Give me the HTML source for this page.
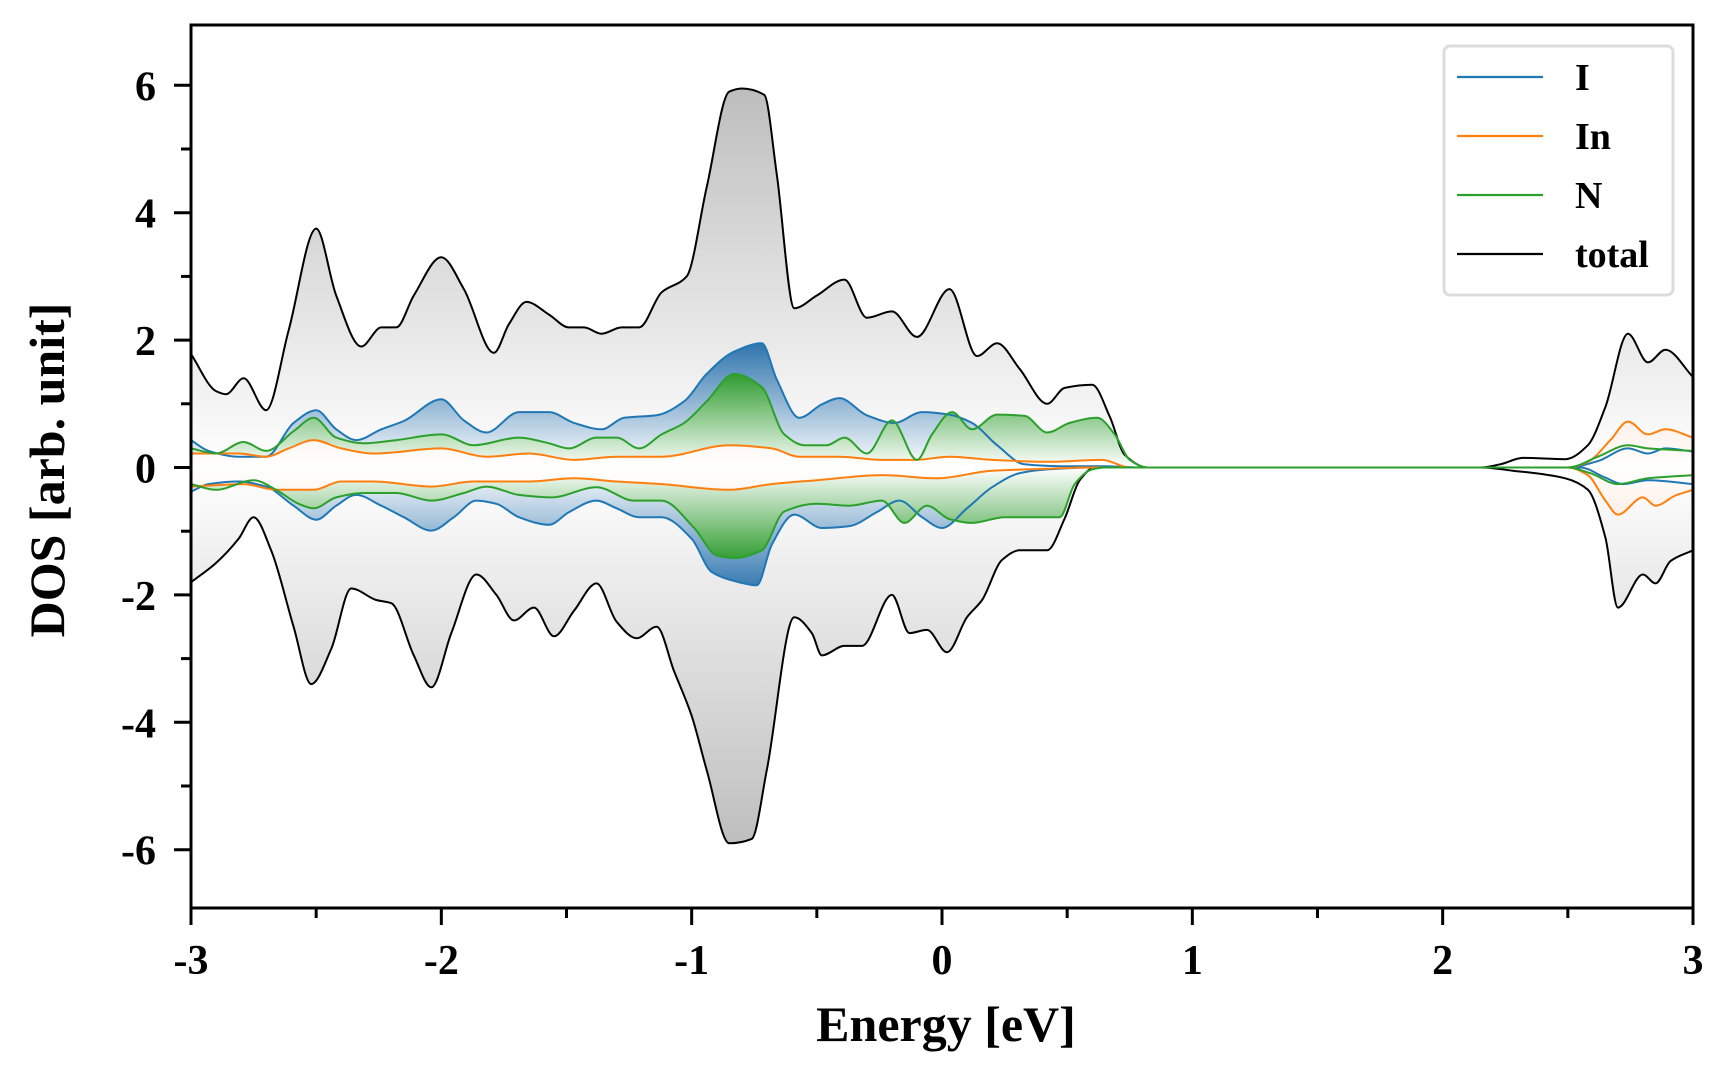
<!DOCTYPE html>
<html><head><meta charset="utf-8">
<style>
html,body{margin:0;padding:0;background:#fff;}
svg{display:block;}
text{font-family:"Liberation Serif",serif;font-weight:bold;fill:#000;}
</style></head>
<body>
<svg id="chart" width="1728" height="1080" viewBox="0 0 1728 1080" xmlns="http://www.w3.org/2000/svg">
<defs>
<linearGradient id="gTot" gradientUnits="userSpaceOnUse" x1="0" y1="85" x2="0" y2="850">
<stop offset="0" stop-color="#bdbdbd"/><stop offset="0.5" stop-color="#ffffff"/><stop offset="1" stop-color="#bdbdbd"/></linearGradient>
<linearGradient id="gI" gradientUnits="userSpaceOnUse" x1="0" y1="343" x2="0" y2="592">
<stop offset="0" stop-color="#2f74ad"/><stop offset="0.5" stop-color="#ffffff"/><stop offset="1" stop-color="#2f74ad"/></linearGradient>
<linearGradient id="gN" gradientUnits="userSpaceOnUse" x1="0" y1="372" x2="0" y2="563">
<stop offset="0" stop-color="#2b9a2b"/><stop offset="0.5" stop-color="#ffffff"/><stop offset="1" stop-color="#2b9a2b"/></linearGradient>
<linearGradient id="gIn" gradientUnits="userSpaceOnUse" x1="0" y1="400" x2="0" y2="535">
<stop offset="0" stop-color="#fbe9dc"/><stop offset="0.5" stop-color="#ffffff"/><stop offset="1" stop-color="#fbe9dc"/></linearGradient>
<clipPath id="plotClip"><rect x="191" y="25" width="1502" height="883"/></clipPath>
</defs>
<g id="fills" clip-path="url(#plotClip)"></g>
<g id="lines" clip-path="url(#plotClip)"></g>
<g id="axes"></g>
<g id="legend">
<rect x="1444" y="46" width="229" height="249" rx="6" fill="#fff" stroke="#dcdcdc" stroke-width="3"/>
<line x1="1457" y1="77" x2="1543" y2="77" stroke="#1f77b4" stroke-width="2.2"/>
<text x="1575" y="90" font-size="38">I</text>
<line x1="1457" y1="136" x2="1543" y2="136" stroke="#ff7f0e" stroke-width="2.2"/>
<text x="1575" y="149" font-size="38">In</text>
<line x1="1457" y1="195" x2="1543" y2="195" stroke="#2ca02c" stroke-width="2.2"/>
<text x="1575" y="208" font-size="38">N</text>
<line x1="1457" y1="254" x2="1543" y2="254" stroke="#000" stroke-width="2.2"/>
<text x="1575" y="267" font-size="38">total</text>
</g>
<text x="946" y="1041" font-size="50" text-anchor="middle">Energy [eV]</text>
<text transform="translate(64,470) rotate(-90)" font-size="50" text-anchor="middle">DOS [arb. unit]</text>
</svg>
<script>
// ---- data ----
const totUpE=[-3,-2.9,-2.86,-2.79,-2.70,-2.61,-2.50,-2.42,-2.32,-2.24,-2.18,-2.11,-2.0,-1.91,-1.79,-1.73,-1.66,-1.57,-1.49,-1.43,-1.36,-1.28,-1.21,-1.12,-1.02,-0.94,-0.85,-0.80,-0.71,-0.66,-0.59,-0.50,-0.39,-0.30,-0.20,-0.10,0.03,0.14,0.22,0.31,0.42,0.49,0.60,0.67,0.73,0.82,1.2,1.8,2.15,2.23,2.32,2.49,2.58,2.65,2.74,2.82,2.89,3.0];
const totUpV=[1.78,1.2,1.15,1.4,0.9,2.15,3.75,2.7,1.9,2.2,2.2,2.7,3.3,2.8,1.8,2.25,2.6,2.4,2.2,2.2,2.1,2.2,2.2,2.75,3.0,4.4,5.9,5.95,5.85,4.6,2.5,2.7,2.95,2.35,2.45,2.05,2.8,1.75,1.95,1.55,1.0,1.25,1.3,0.8,0.2,0,0,0,0,0.05,0.15,0.13,0.35,0.95,2.1,1.65,1.85,1.42];
const totDnE=[-3,-2.9,-2.81,-2.75,-2.68,-2.59,-2.52,-2.44,-2.36,-2.26,-2.2,-2.11,-2.04,-1.96,-1.86,-1.78,-1.71,-1.63,-1.55,-1.47,-1.38,-1.30,-1.22,-1.14,-1.07,-1.0,-0.94,-0.85,-0.76,-0.70,-0.59,-0.52,-0.48,-0.39,-0.32,-0.20,-0.13,-0.06,0.02,0.10,0.16,0.24,0.31,0.42,0.49,0.55,0.61,0.8,1.5,2.15,2.28,2.49,2.58,2.65,2.70,2.80,2.85,2.91,3.0];
const totDnV=[-1.8,-1.5,-1.12,-0.78,-1.3,-2.5,-3.4,-2.85,-1.9,-2.08,-2.13,-2.95,-3.45,-2.6,-1.68,-2.0,-2.4,-2.2,-2.65,-2.25,-1.82,-2.42,-2.68,-2.5,-3.2,-3.9,-4.75,-5.9,-5.83,-4.75,-2.35,-2.6,-2.95,-2.8,-2.8,-2.0,-2.6,-2.55,-2.9,-2.35,-2.08,-1.45,-1.3,-1.3,-0.8,-0.2,0,0,0,0,-0.05,-0.17,-0.35,-1.1,-2.2,-1.68,-1.82,-1.47,-1.3];
const iUpE=[-3,-2.93,-2.81,-2.70,-2.59,-2.5,-2.42,-2.34,-2.24,-2.15,-2.0,-1.91,-1.82,-1.69,-1.57,-1.47,-1.36,-1.27,-1.14,-1.03,-0.94,-0.83,-0.72,-0.66,-0.57,-0.48,-0.41,-0.30,-0.19,-0.08,0.03,0.12,0.22,0.33,0.47,0.64,0.8,1.5,2.5,2.62,2.74,2.82,2.89,3.0];
const iUpV=[0.43,0.26,0.17,0.17,0.7,0.9,0.6,0.43,0.6,0.73,1.07,0.74,0.55,0.87,0.87,0.7,0.6,0.78,0.82,1.04,1.47,1.82,1.95,1.38,0.78,0.99,1.09,0.82,0.7,0.87,0.83,0.7,0.35,0.05,0.02,0.02,0,0,0,0.1,0.3,0.22,0.3,0.25];
const iDnE=[-3,-2.93,-2.81,-2.70,-2.59,-2.5,-2.42,-2.34,-2.24,-2.15,-2.04,-1.95,-1.86,-1.78,-1.69,-1.57,-1.49,-1.38,-1.30,-1.21,-1.12,-1.0,-0.92,-0.83,-0.74,-0.68,-0.59,-0.48,-0.37,-0.26,-0.17,-0.08,0.0,0.10,0.20,0.31,0.42,0.6,1.5,2.55,2.65,2.72,2.82,3.0];
const iDnV=[-0.38,-0.26,-0.22,-0.3,-0.6,-0.82,-0.6,-0.43,-0.6,-0.78,-0.99,-0.78,-0.52,-0.57,-0.78,-0.9,-0.7,-0.52,-0.64,-0.78,-0.78,-1.12,-1.64,-1.78,-1.85,-1.21,-0.74,-0.95,-0.92,-0.7,-0.52,-0.78,-0.95,-0.64,-0.31,-0.09,-0.03,0,0,0,-0.16,-0.26,-0.2,-0.26];
const nUpE=[-3,-2.9,-2.79,-2.70,-2.59,-2.51,-2.42,-2.31,-2.18,-2.0,-1.87,-1.69,-1.57,-1.49,-1.38,-1.30,-1.21,-1.12,-1.03,-0.94,-0.83,-0.72,-0.63,-0.55,-0.46,-0.39,-0.30,-0.20,-0.10,-0.04,0.04,0.12,0.22,0.33,0.42,0.51,0.62,0.69,0.75,0.82,1.5,2.5,2.62,2.74,2.82,3.0];
const nUpV=[0.3,0.22,0.4,0.26,0.57,0.78,0.47,0.38,0.43,0.52,0.35,0.47,0.38,0.3,0.47,0.47,0.3,0.52,0.7,1.04,1.47,1.26,0.52,0.35,0.35,0.47,0.22,0.74,0.12,0.52,0.87,0.6,0.83,0.81,0.55,0.7,0.78,0.52,0.12,0,0,0,0.17,0.35,0.3,0.26];
const nDnE=[-3,-2.9,-2.75,-2.66,-2.57,-2.51,-2.42,-2.31,-2.18,-2.04,-1.91,-1.82,-1.69,-1.56,-1.38,-1.23,-1.12,-0.99,-0.90,-0.83,-0.72,-0.63,-0.50,-0.37,-0.24,-0.15,-0.06,0.03,0.12,0.25,0.34,0.47,0.53,0.60,0.65,1.5,2.5,2.59,2.70,2.82,3.0];
const nDnV=[-0.26,-0.35,-0.2,-0.35,-0.57,-0.64,-0.47,-0.4,-0.4,-0.52,-0.4,-0.3,-0.43,-0.47,-0.31,-0.52,-0.52,-0.95,-1.38,-1.42,-1.3,-0.69,-0.57,-0.6,-0.52,-0.87,-0.6,-0.81,-0.87,-0.78,-0.78,-0.78,-0.26,-0.03,0,0,0,-0.09,-0.26,-0.17,-0.12];
const inUpE=[-3,-2.81,-2.70,-2.61,-2.51,-2.40,-2.27,-2.0,-1.82,-1.65,-1.47,-1.30,-1.12,-0.85,-0.68,-0.57,-0.41,-0.24,-0.11,0.03,0.20,0.42,0.64,0.75,1.5,2.5,2.58,2.67,2.74,2.82,2.89,3.0];
const inUpV=[0.22,0.22,0.17,0.3,0.43,0.3,0.22,0.3,0.17,0.22,0.12,0.17,0.17,0.35,0.3,0.17,0.17,0.12,0.12,0.17,0.12,0.09,0.12,0,0,0,0.09,0.43,0.72,0.52,0.6,0.47];
const inDnE=[-3,-2.79,-2.66,-2.51,-2.40,-2.27,-2.04,-1.87,-1.65,-1.47,-1.30,-1.12,-0.85,-0.68,-0.50,-0.24,-0.02,0.20,0.42,0.58,1.5,2.5,2.58,2.65,2.70,2.80,2.85,2.93,3.0];
const inDnV=[-0.3,-0.26,-0.35,-0.35,-0.22,-0.22,-0.3,-0.22,-0.22,-0.17,-0.22,-0.26,-0.35,-0.26,-0.2,-0.12,-0.17,-0.05,-0.02,0,0,0,-0.12,-0.52,-0.74,-0.47,-0.6,-0.44,-0.35];
const xTicks=[-3,-2,-1,0,1,2,3];
const xTickLabels=["-3","-2","-1","0","1","2","3"];
const yTicks=[-6,-4,-2,0,2,4,6];
const yTickLabels=["-6","-4","-2","0","2","4","6"];

// ---- scales ----
const X0=191,X1=1693,Y0=908,Y1=25;
function xs(e){return X0+(e+3)/6*(X1-X0);}
function ys(v){return 467.5-v*63.7;}
const NS='http://www.w3.org/2000/svg';
// monotone cubic (Fritsch-Carlson) in pixel space
function pathD(E,V){
  const px=E.map(xs),py=V.map(ys),n=px.length;
  const s=[];for(let i=0;i<n-1;i++)s.push((py[i+1]-py[i])/(px[i+1]-px[i]));
  const m=new Array(n);
  m[0]=s[0];m[n-1]=s[n-2];
  for(let i=1;i<n-1;i++){
    if(s[i-1]*s[i]<=0)m[i]=0;
    else{const h0=px[i]-px[i-1],h1=px[i+1]-px[i];
      const w1=2*h1+h0,w2=h1+2*h0;m[i]=(w1+w2)/(w1/s[i-1]+w2/s[i]);}
  }
  let d='M'+px[0].toFixed(1)+','+py[0].toFixed(1);
  for(let i=0;i<n-1;i++){
    const h=(px[i+1]-px[i])/3;
    d+=' C'+(px[i]+h).toFixed(1)+','+(py[i]+m[i]*h).toFixed(1)+' '+(px[i+1]-h).toFixed(1)+','+(py[i+1]-m[i+1]*h).toFixed(1)+' '+px[i+1].toFixed(1)+','+py[i+1].toFixed(1);
  }
  return d;
}
const fills=document.getElementById('fills'),lines=document.getElementById('lines');
function addFill(E,V,grad,name){
  const el=document.createElementNS(NS,'path');
  const d=pathD(E,V)+' L'+xs(E[E.length-1]).toFixed(1)+','+ys(0)+' L'+xs(E[0]).toFixed(1)+','+ys(0)+' Z';
  el.setAttribute('d',d);el.setAttribute('fill','url(#'+grad+')');
  
  
  fills.appendChild(el);
}
function addLine(E,V,col,name){
  const el=document.createElementNS(NS,'path');
  el.setAttribute('d',pathD(E,V));el.setAttribute('fill','none');
  el.setAttribute('stroke',col);el.setAttribute('stroke-width','2');
  
  
  lines.appendChild(el);
}
addFill(totUpE,totUpV,'gTot','total-up-fill');addFill(totDnE,totDnV,'gTot','total-down-fill');
addFill(iUpE,iUpV,'gI','i-up-fill');addFill(iDnE,iDnV,'gI','i-down-fill');
addFill(nUpE,nUpV,'gN','n-up-fill');addFill(nDnE,nDnV,'gN','n-down-fill');
addFill(inUpE,inUpV,'gIn','in-up-fill');addFill(inDnE,inDnV,'gIn','in-down-fill');
addLine(totUpE,totUpV,'#000','total-up-line');addLine(totDnE,totDnV,'#000','total-down-line');
addLine(iUpE,iUpV,'#1f77b4','i-up-line');addLine(iDnE,iDnV,'#1f77b4','i-down-line');
addLine(inUpE,inUpV,'#ff7f0e','in-up-line');addLine(inDnE,inDnV,'#ff7f0e','in-down-line');
addLine(nUpE,nUpV,'#2ca02c','n-up-line');addLine(nDnE,nDnV,'#2ca02c','n-down-line');

// ---- axes ----
const axes=document.getElementById('axes');
function mk(tag,attrs,name){
  const el=document.createElementNS(NS,tag);
  for(const k in attrs)el.setAttribute(k,attrs[k]);
  
  
  axes.appendChild(el);return el;
}
mk('rect',{x:X0,y:Y1,width:X1-X0,height:Y0-Y1,fill:'none',stroke:'#000','stroke-width':3},'plot-frame');
for(let i=-3;i<=3;i+=0.5){
  const major=Number.isInteger(i);
  mk('line',{x1:xs(i),y1:Y0,x2:xs(i),y2:Y0+(major?17:10),stroke:'#000','stroke-width':3},major?'x-major-tick':'x-minor-tick');
}
xTicks.forEach((t,i)=>{const el=mk('text',{x:xs(t),y:974,'font-size':42,'text-anchor':'middle'},'x-tick-label');el.textContent=xTickLabels[i];});
for(let v=-6;v<=6;v+=1){
  const major=v%2===0;
  mk('line',{x1:X0,y1:ys(v),x2:X0-(major?17:10),y2:ys(v),stroke:'#000','stroke-width':3},major?'y-major-tick':'y-minor-tick');
}
yTicks.forEach((t,i)=>{const el=mk('text',{x:156,y:ys(t)+15,'font-size':42,'text-anchor':'end'},'y-tick-label');el.textContent=yTickLabels[i];});
</script>
</body></html>
